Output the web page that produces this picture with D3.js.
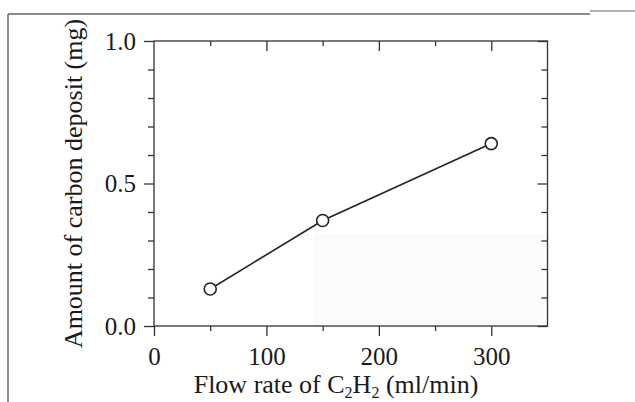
<!DOCTYPE html>
<html>
<head>
<meta charset="utf-8">
<script src="https://cdn.jsdelivr.net/npm/d3@7"></script>
<style>
  body { margin: 0; background: #fff; }
  svg { display: block; }
  .tick text { font-family: "Liberation Serif", "Times New Roman", serif; font-size: 25px; fill: #1a1a1a; }
  .tick line { stroke: #333; stroke-width: 1.3; }
  .axis-label { font-family: "Liberation Serif", "Times New Roman", serif; font-size: 26px; fill: #1a1a1a; }
</style>
</head>
<body>
<div id="chart"></div>
<script>
// data
const flowRates = [50, 150, 300];
const carbonDeposit = [0.13, 0.37, 0.64];
const xMajorTicks = [0, 100, 200, 300];
const xMinorTicks = [50, 150, 250];
const yMajorTicks = [0.0, 0.5, 1.0];
const yMinorTicks = [0.1, 0.2, 0.3, 0.4, 0.6, 0.7, 0.8, 0.9];

const W = 635, H = 402;
const plot = { left: 154, right: 547.5, top: 41, bottom: 326 };

const svg = d3.select("#chart").append("svg")
    .attr("width", W)
    .attr("height", H);

// scan frame remnants
svg.append("rect")
    .attr("x", 314).attr("y", 234)
    .attr("width", 236).attr("height", 94)
    .attr("fill", "#fbfbfb");
svg.append("line")
    .attr("x1", 8).attr("x2", 590).attr("y1", 14).attr("y2", 14)
    .attr("stroke", "#666").attr("stroke-width", 1.5);
svg.append("line")
    .attr("x1", 590).attr("x2", 635).attr("y1", 11).attr("y2", 11)
    .attr("stroke", "#999").attr("stroke-width", 1.5);
svg.append("line")
    .attr("x1", 8).attr("x2", 8).attr("y1", 14).attr("y2", H)
    .attr("stroke", "#666").attr("stroke-width", 1.5);

// scales
const x = d3.scaleLinear().domain([0, 350]).range([plot.left, plot.right]);
const y = d3.scaleLinear().domain([0, 1]).range([plot.bottom, plot.top]);

// axes: bottom/left ticks point out, top/right point in
function addAxis(axis, tx, ty) {
    const g = svg.append("g")
        .attr("transform", `translate(${tx},${ty})`)
        .call(axis);
    g.select(".domain").remove();
    return g;
}

addAxis(d3.axisBottom(x).tickValues(xMajorTicks).tickSize(10).tickPadding(11)
    .tickFormat(d3.format("d")), 0, plot.bottom);
addAxis(d3.axisBottom(x).tickValues(xMinorTicks).tickSize(5).tickFormat(""), 0, plot.bottom);
addAxis(d3.axisTop(x).tickValues(xMajorTicks.slice(1)).tickSize(-10).tickFormat(""), 0, plot.top);
addAxis(d3.axisTop(x).tickValues(xMinorTicks).tickSize(-5).tickFormat(""), 0, plot.top);

addAxis(d3.axisLeft(y).tickValues(yMajorTicks).tickSize(10).tickPadding(8)
    .tickFormat(d3.format(".1f")), plot.left, 0);
addAxis(d3.axisLeft(y).tickValues(yMinorTicks).tickSize(6).tickFormat(""), plot.left, 0);
addAxis(d3.axisRight(y).tickValues(yMajorTicks).tickSize(-10).tickFormat(""), plot.right, 0);
addAxis(d3.axisRight(y).tickValues(yMinorTicks).tickSize(-6).tickFormat(""), plot.right, 0);

// plot frame
svg.append("rect")
    .attr("x", plot.left).attr("y", plot.top)
    .attr("width", plot.right - plot.left)
    .attr("height", plot.bottom - plot.top)
    .attr("fill", "none")
    .attr("stroke", "#333")
    .attr("stroke-width", 1.3);

// series
const points = flowRates.map((f, i) => ({ f: f, c: carbonDeposit[i] }));

svg.append("path")
    .datum(points)
    .attr("fill", "none")
    .attr("stroke", "#222")
    .attr("stroke-width", 1.6)
    .attr("d", d3.line().x(d => x(d.f)).y(d => y(d.c)));

svg.selectAll("circle.pt")
    .data(points)
    .enter()
    .append("circle")
    .attr("class", "pt")
    .attr("cx", d => x(d.f))
    .attr("cy", d => y(d.c))
    .attr("r", 6)
    .attr("fill", "#fff")
    .attr("stroke", "#222")
    .attr("stroke-width", 1.6);

// axis labels
const xLabel = svg.append("text")
    .attr("class", "axis-label")
    .attr("x", 336)
    .attr("y", 393)
    .attr("text-anchor", "middle");
xLabel.append("tspan").text("Flow rate of C");
xLabel.append("tspan").attr("font-size", "16px").attr("dy", 5).text("2");
xLabel.append("tspan").attr("dy", -5).text("H");
xLabel.append("tspan").attr("font-size", "16px").attr("dy", 5).text("2");
xLabel.append("tspan").attr("dy", -5).text(" (ml/min)");

svg.append("text")
    .attr("class", "axis-label")
    .attr("transform", `translate(82,${(plot.top + plot.bottom) / 2}) rotate(-90)`)
    .attr("text-anchor", "middle")
    .text("Amount of carbon deposit (mg)");
</script>
</body>
</html>
